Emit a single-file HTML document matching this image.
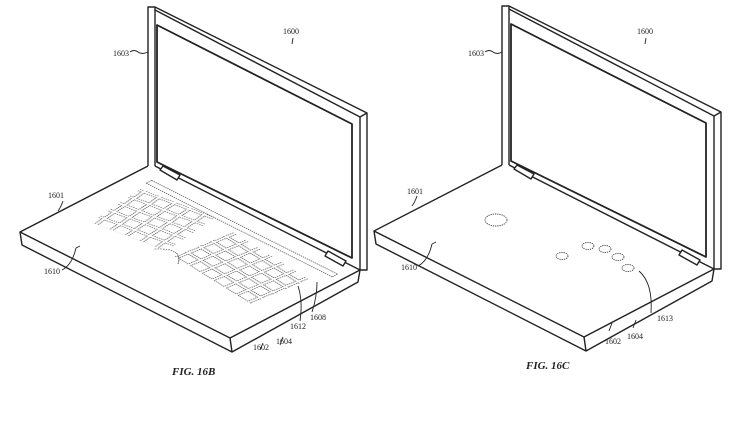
<!DOCTYPE html>
<html><head><meta charset="utf-8"><style>
html,body{margin:0;padding:0;background:#fff;width:750px;height:422px;overflow:hidden}
svg{display:block}
text{font-family:"Liberation Serif",serif;fill:#222}
</style></head><body>
<svg width="750" height="422" viewBox="0 0 750 422" xmlns="http://www.w3.org/2000/svg">
<defs>
<pattern id="keys" patternUnits="userSpaceOnUse" width="15" height="13">
<rect x="1.5" y="1.5" width="12" height="10" fill="none" stroke="#444" stroke-width="0.9" stroke-dasharray="1.3 0.9"/>
</pattern>
<g id="laptop" fill="none" stroke="#222" stroke-width="1.4" stroke-linejoin="round">
<path d="M148,166 L148,7 L155,7 L367,113 L367,270 L360,270 L360,117 L155,10"/>
<path d="M155,7 L155,166"/>
<path d="M360,117 L367,113"/>
<path d="M157,25 L352,124 L352,258 L157,162 Z" stroke-width="1.8"/>
<path d="M155,166 L360,270"/>
<path d="M148,166 L20,232 L230,338 L360,270"/>
<path d="M20,232 L22,245 L232,352 L358,282 L360,270"/>
<path d="M230,338 L232,352"/>
<path d="M160,170 L163,166 L180,175 L177,180 Z" fill="#fff"/>
<path d="M325,256 L328,251 L346,261 L343,266 Z" fill="#fff"/>
</g>
</defs>

<use href="#laptop"/>
<g transform="matrix(0.893,0.450,-0.889,0.458,148,166)">
<rect x="25" y="24" width="75" height="65" fill="url(#keys)" transform="rotate(-8 62 57)"/>
<rect x="117" y="30" width="96" height="60" fill="url(#keys)" transform="rotate(6 165 60)"/>
<path d="M18,20 L226,20 M18,14 L226,14 M18,14 L18,20 M226,14 L226,20" stroke="#444" stroke-width="0.9" stroke-dasharray="1.3 0.9" fill="none"/>
<path d="M95,88 Q110,70 125,92" stroke="#444" stroke-width="0.9" stroke-dasharray="1.3 0.9" fill="none"/>
</g>
<g fill="none" stroke="#222" stroke-width="0.9">
<path d="M130,52 q4,-3 8,0 t10,0"/>
<path d="M293,38 l-1,6"/>
<path d="M63,201 q-2,6 -5,10"/>
<path d="M62,270 q10,-5 14,-22 l4,-2"/>
<path d="M312,312 q5,-15 5,-30"/>
<path d="M300,321 q3,-20 -2,-35"/>
<path d="M283,337 l-3,8"/>
<path d="M263,343 l-3,7"/>
</g>
<g font-size="8">
<text x="283" y="34">1600</text>
<text x="113" y="56">1603</text>
<text x="48" y="198">1601</text>
<text x="44" y="274">1610</text>
<text x="310" y="320">1608</text>
<text x="290" y="329">1612</text>
<text x="276" y="344">1604</text>
<text x="253" y="350">1602</text>
</g>
<text x="172" y="375" font-size="11" font-weight="bold" font-style="italic">FIG. 16B</text>

<g transform="translate(354,-1)"><use href="#laptop"/></g>
<g fill="none" stroke="#444" stroke-width="0.9" stroke-dasharray="1.3 0.9">
<ellipse cx="496" cy="220" rx="11" ry="6"/>
<ellipse cx="562" cy="256" rx="6" ry="3.5"/>
<ellipse cx="588" cy="246" rx="6" ry="3.5"/>
<ellipse cx="605" cy="249" rx="6" ry="3.5"/>
<ellipse cx="618" cy="257" rx="6" ry="3.5"/>
<ellipse cx="628" cy="268" rx="6" ry="3.5"/>
</g>
<g fill="none" stroke="#222" stroke-width="0.9">
<path d="M485,52 q4,-3 8,0 t9,0"/>
<path d="M646,38 l-1,6"/>
<path d="M417,196 q-2,6 -5,10"/>
<path d="M418,266 q10,-5 14,-22 l4,-2"/>
<path d="M651,313 q2,-30 -12,-42"/>
<path d="M612,323 l-3,8"/>
<path d="M636,320 l-3,8"/>
</g>
<g font-size="8">
<text x="637" y="34">1600</text>
<text x="468" y="56">1603</text>
<text x="407" y="194">1601</text>
<text x="401" y="270">1610</text>
<text x="657" y="321">1613</text>
<text x="605" y="344">1602</text>
<text x="627" y="339">1604</text>
</g>
<text x="526" y="369" font-size="11" font-weight="bold" font-style="italic">FIG. 16C</text>
</svg>
</body></html>
